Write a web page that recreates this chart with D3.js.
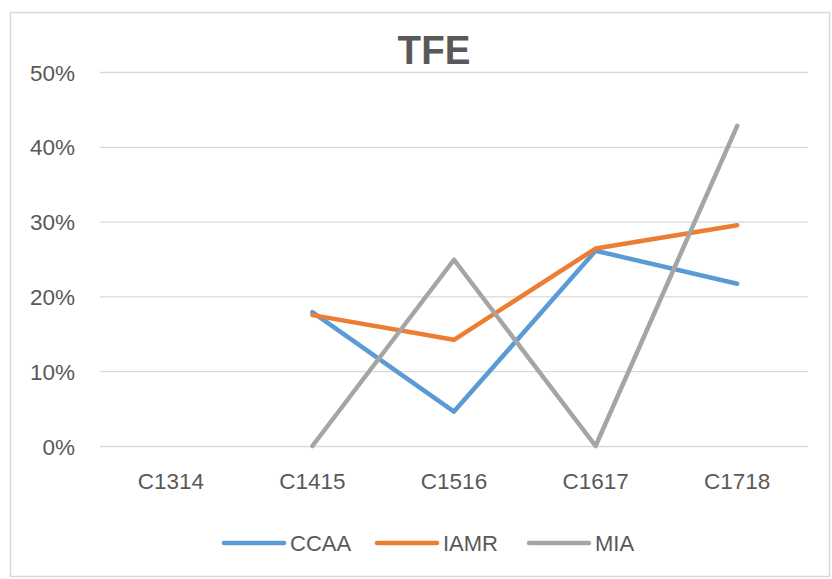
<!DOCTYPE html>
<html><head><meta charset="utf-8">
<script src="https://cdn.jsdelivr.net/npm/d3@7"></script>
<style>body{margin:0;background:#fff}svg{display:block}text{font-family:"Liberation Sans",Arial,sans-serif;fill:#595959}</style>
</head><body><svg id="c" width="832" height="579"></svg>
<script>
const categories = ["C1314","C1415","C1516","C1617","C1718"];
const ccaa = [null, 0.179, 0.046, 0.261, 0.217];
const iamr = [null, 0.175, 0.142, 0.264, 0.295];
const mia  = [null, 0.0, 0.249, 0.0, 0.428];
const yTicks = [0, 0.1, 0.2, 0.3, 0.4, 0.5];
const seriesNames = ["CCAA","IAMR","MIA"];
const colors = ["#5B9BD5","#ED7D31","#A5A5A5"];
const seriesData = [ccaa, iamr, mia];

const svg = d3.select("#c");
svg.append("rect").attr("x",10.5).attr("y",12.5).attr("width",819).attr("height",564)
  .attr("fill","#fff").attr("stroke","#d9d9d9").attr("stroke-width",1.5);

const x = d3.scaleBand().domain(categories).range([100,808]);
const y = d3.scaleLinear().domain([0,0.5]).range([446,72]);

svg.append("text").attr("x",434).attr("y",64).attr("text-anchor","middle")
  .attr("transform","translate(434,0) scale(0.94,1) translate(-434,0)")
  .style("font-weight","bold").style("font-size","41px").text("TFE");

const yAxis = d3.axisLeft(y).tickValues(yTicks).tickFormat(d3.format(".0%")).tickSize(-708).tickPadding(25);
const gy = svg.append("g").attr("transform","translate(100,0)").call(yAxis);
gy.select(".domain").remove();
gy.selectAll("line").attr("stroke","#d9d9d9").attr("stroke-width",1.3);
gy.selectAll("text").style("font-size","22.5px").attr("dy","0.36em");

const xAxis = d3.axisBottom(x).tickSize(0).tickPadding(27);
const gx = svg.append("g").attr("transform","translate(0,446)").call(xAxis);
gx.select(".domain").remove();
gx.selectAll("text").style("font-size","22.5px");

const line = d3.line().defined(d => d.v !== null)
  .x(d => x(d.c) + x.bandwidth()/2).y(d => y(d.v));
seriesData.forEach((s,i) => {
  svg.append("path").datum(s.map((v,j)=>({c:categories[j],v})))
    .attr("d", line).attr("fill","none").attr("stroke",colors[i])
    .attr("stroke-width",4.5).attr("stroke-linecap","round").attr("stroke-linejoin","round");
});

const legX = [224, 377, 529];
const lg = svg.append("g");
seriesNames.forEach((n,i) => {
  lg.append("line").attr("x1",legX[i]).attr("x2",legX[i]+60).attr("y1",543).attr("y2",543)
    .attr("stroke",colors[i]).attr("stroke-width",4.5).attr("stroke-linecap","round");
  lg.append("text").attr("x",legX[i]+66).attr("y",543).attr("dy","0.36em").style("font-size","22px").text(n);
});
</script></body></html>
